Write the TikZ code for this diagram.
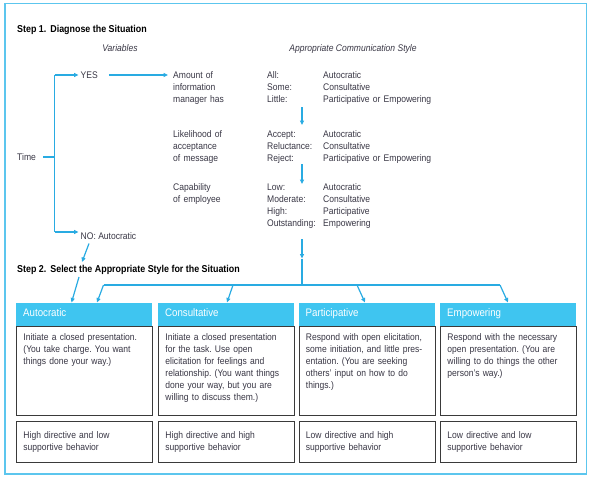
\documentclass[tikz,border=0pt]{standalone}
\usepackage{fontspec}
\setmainfont{Liberation Sans}[FakeStretch=0.89]
\usetikzlibrary{arrows.meta}
\definecolor{arrowblue}{HTML}{29ABE2}
\definecolor{hdrblue}{HTML}{3FC5F0}
\definecolor{frameblue}{HTML}{5CC6EE}
\definecolor{txtgray}{HTML}{383644}
\definecolor{boxgray}{HTML}{3A3A3A}
\frenchspacing
\begin{document}
\begin{tikzpicture}[x=1pt,y=-1pt,
  txt/.style={inner sep=0pt,text=txtgray,font=\fontsize{9.6}{12}\selectfont,align=left},
  mtxt/.style={txt,text width=#1},
  itxt/.style={txt,font=\fontsize{9.6}{12}\selectfont\itshape},
  ttl/.style={txt,text=black,font=\fontsize{10}{12}\selectfont\bfseries},
  conn/.style={draw=arrowblue,line width=1.2pt},
  arr/.style={conn,-{Triangle[length=4.5pt,width=4pt]}},
  hdr/.style={fill=hdrblue,text=white,font=\fontsize{10.9}{12}\selectfont,
    inner xsep=7pt,inner ysep=0pt,text width=122pt,align=left,
    text height=13pt,text depth=10pt,anchor=base west},
  body/.style={draw=boxgray,line width=0.9pt,fill=white,text=txtgray,
    font=\fontsize{9.6}{12}\selectfont,inner xsep=7pt,inner ysep=0pt,
    text width=122pt,align=left,anchor=base west},
  bodytop/.style={body,text height=14.7pt,text depth=74.3pt},
  bodybot/.style={body,text height=17.5pt,text depth=23.5pt},
]
\useasboundingbox (0,0) rectangle (590,477);
\draw[draw=frameblue,line width=1.2pt] (5,3.5) rectangle (586.5,474);

% Step 1
\node[ttl,anchor=base west] (step1) at (17,32.3) {Step 1.\hspace{4pt}Diagnose the Situation};
\node[itxt,anchor=base] (var) at (120,51.5) {Variables};
\node[itxt,anchor=base] (acs) at (353,51.5) {Appropriate Communication Style};

\node[txt,anchor=base west] (time) at (17,160.5) {Time};
\node[txt,anchor=base west] (yes) at (80.5,78) {YES};
\node[txt,anchor=base west] (no) at (80.5,239) {NO: Autocratic};

\coordinate (ttop) at (54.5,75);
\coordinate (tbot) at (54.5,232);
\draw[conn] (ttop) -- (tbot);
\draw[conn] ([xshift=7pt]time.east) -- (time.east -| ttop);
\draw[arr] (ttop) -- ([xshift=-2pt]ttop -| yes.west);
\draw[arr] (tbot) -- ([xshift=-2pt]tbot -| no.west);

% variables
\node[mtxt=80pt,anchor=base west] (v1) at (173,78) {Amount of\\information\\manager has};
\node[mtxt=80pt,anchor=base west] (v2) at (173,137.5) {Likelihood of\\acceptance\\of message};
\node[mtxt=80pt,anchor=base west] (v3) at (173,190.5) {Capability\\of employee};
\draw[arr] ([xshift=11pt]ttop -| yes.east) -- ([xshift=-5pt]ttop -| v1.west);

\node[mtxt=54pt,anchor=base west] (l1) at (267,78) {All:\\Some:\\Little:};
\node[mtxt=130pt,anchor=base west] (s1) at (323,78) {Autocratic\\Consultative\\Participative or Empowering};
\node[mtxt=54pt,anchor=base west] (l2) at (267,137.5) {Accept:\\Reluctance:\\Reject:};
\node[mtxt=130pt,anchor=base west] (s2) at (323,137.5) {Autocratic\\Consultative\\Participative or Empowering};
\node[mtxt=54pt,anchor=base west] (l3) at (267,190.5) {Low:\\Moderate:\\High:\\Outstanding:};
\node[mtxt=130pt,anchor=base west] (s3) at (323,190.5) {Autocratic\\Consultative\\Participative\\Empowering};

\coordinate (a1s) at (302,107);
\coordinate (a1e) at (302,125);
\coordinate (a2s) at (302,164);
\coordinate (a2e) at (302,184);
\coordinate (a3s) at (302,239);
\coordinate (a3m) at (302,258.5);
\coordinate (hub) at (302,285);
\draw[arr] (a1s) -- (a1e);
\draw[arr] (a2s) -- (a2e);
\draw[arr] (a3s) -- (a3m);
\draw[conn] (a3m) -- (hub);

% Step 2
\node[ttl,anchor=base west] (step2) at (17,272.5) {Step 2.\hspace{4pt}Select the Appropriate Style for the Situation};

% boxes
\node[bodytop] (b1) at (16,340.7) {Initiate a closed presentation.\\(You take charge. You want\\things done your way.)};
\node[bodytop] (b2) at (158,340.7) {Initiate a closed presentation\\for the task. Use open\\elicitation for feelings and\\relationship. (You want things\\done your way, but you are\\willing to discuss them.)};
\node[bodytop] (b3) at (298.5,340.7) {Respond with open elicitation,\\some initiation, and little pres-\\entation. (You are seeking\\others’ input on how to do\\things.)};
\node[bodytop] (b4) at (440,340.7) {Respond with the necessary\\open presentation. (You are\\willing to do things the other\\person’s way.)};

\node[hdr] (h1) at (16,316.2) {Autocratic};
\node[hdr] (h2) at (158,316.2) {Consultative};
\node[hdr] (h3) at (298.5,316.2) {Participative};
\node[hdr] (h4) at (440,316.2) {Empowering};

\node[bodybot] (c1) at (16,438.5) {High directive and low\\supportive behavior};
\node[bodybot] (c2) at (158,438.5) {High directive and high\\supportive behavior};
\node[bodybot] (c3) at (298.5,438.5) {Low directive and high\\supportive behavior};
\node[bodybot] (c4) at (440,438.5) {Low directive and low\\supportive behavior};

% distribution
\coordinate (hl) at (103.5,285);
\coordinate (hc) at (233,285);
\coordinate (hp) at (357,285);
\coordinate (hr) at (500,285);
\draw[conn] (hl) -- (hr);
\coordinate (e1) at (97,302.5);
\coordinate (e2) at (227,302.5);
\coordinate (e3) at (365,302.5);
\coordinate (e4) at (508,302.5);
\draw[arr] (hl) -- (e1);
\draw[arr] (hc) -- (e2);
\draw[arr] (hp) -- (e3);
\draw[arr] (hr) -- (e4);

% NO arrow to Autocratic
\coordinate (n1s) at (89,243.5);
\coordinate (n1e) at (82,262);
\coordinate (n2s) at (79,277);
\coordinate (n2e) at (71.5,302.5);
\draw[arr] (n1s) -- (n1e);
\draw[arr] (n2s) -- (n2e);
\end{tikzpicture}
\end{document}
